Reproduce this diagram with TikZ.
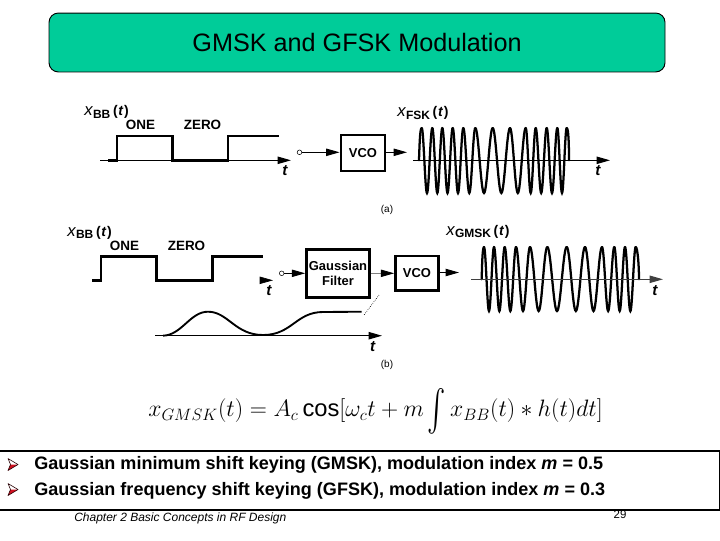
\documentclass[tikz,border=0pt]{standalone}
\usepackage{fontspec}
\setmainfont{Liberation Sans}
\usetikzlibrary{arrows.meta}
\definecolor{titlegreen}{HTML}{00CC99}
\definecolor{bulletred}{HTML}{D01020}
\newcommand{\wavecurve}[4]{%
  \foreach \p [remember=\p as \q (initially #1)] in {#4} {
    \pgfmathsetmacro\m{(\p+\q)/2}
    \pgfmathsetmacro\c{0.364*(\m-\q)}
    \draw[wave] (\q,#2) .. controls +(\c,0) and +(-\c,0) .. (\m,#3)
      .. controls +(\c,0) and +(-\c,0) .. (\p,#2);
  }}
\newcommand{\bulletmark}[1]{%
  \fill[bulletred] (10.5,#1) -- (18,#1) -- (8,#1+6) -- cycle;
  \draw[line width=0.45pt,draw=black!80!bulletred,line join=round] (8,#1-6) -- (18,#1) -- (8,#1+6) -- (10.5,#1) -- cycle;}
\newcommand{\siglabel}[1]{{\fontsize{12.5}{14}\selectfont\itshape x}\kern0.3pt\raisebox{-2pt}{\fontsize{9}{10}\selectfont\bfseries #1}\kern2pt{\fontsize{10.5}{12}\selectfont\bfseries(\kern0.5pt\textit{t}\kern0.5pt)}}
\tikzset{
  tip/.style={-{Triangle[length=10pt,width=5.5pt]}},
  sig/.style={line width=2pt,line join=miter},
  ax/.style={line width=0.8pt,tip},
  con/.style={line width=0.7pt,tip},
  blockbox/.style={draw,line width=2.2pt,inner sep=0pt,font=\bfseries\fontsize{9.7}{11.5}\selectfont,align=center},
  wave/.style={line width=1.7pt,line cap=round},
  lab/.style={inner sep=0pt,font=\bfseries\fontsize{10.1}{12}\selectfont},
  var/.style={inner sep=0pt,font=\bfseries\itshape\fontsize{11.5}{13}\selectfont},
  sigtext/.style={inner sep=0pt,anchor=west},
  port/.style={circle,draw,line width=0.4pt,inner sep=0pt,minimum size=3.5pt},
  bul/.style={anchor=west,inner sep=0pt,font=\bfseries\fontsize{13.53}{15}\selectfont},
}
\begin{document}
\begin{tikzpicture}[x=0.75pt,y=-0.75pt]
\useasboundingbox (0,0) rectangle (720,540);
% title
\node[draw,line width=0.7pt,rounded corners=7pt,fill=titlegreen,minimum width=462pt,minimum height=44.2pt,inner sep=0pt,font=\fontsize{18.9}{22}\selectfont] (title) at (357,42.5) {GMSK and GFSK Modulation};
% panel (a)
\node[sigtext] (xa) at (84,112) {\siglabel{BB}};
\node[lab] (onea) at (140.5,125) {ONE};
\node[lab] (zeroa) at (202.5,125) {ZERO};
\coordinate (axaL) at (100,160.3);
\coordinate (axaR) at (291,160.3);
\draw[ax] (axaL) -- (axaR);
\draw[sig] (108,160.3) -- (117,160.3) -- (117,136) -- (172.7,136) -- (172.7,160.3) -- (228,160.3) -- (228,136) -- (279,136);
\node[var] (ta) at (285,171) {t};
\node[port] (ina) at (299.5,152.3) {};
\node[blockbox,minimum width=33pt,minimum height=27pt] (vcoa) at (363,153) {VCO};
\coordinate (outa) at (407,152.3);
\draw[con] (ina) -- (vcoa.west |- ina);
\draw[con] (vcoa.east |- ina) -- (outa);
\node[sigtext] (xfsk) at (397,113) {\siglabel{FSK}};
\wavecurve{421.7}{128}{193}{432.3,442.3,452.7,463.3,475.3,492.7,510,525.7,535.7,546.7,557.3,566.7}
\draw[wave] (419,160.3) .. controls (419.5,145) and (420,128) .. (421.7,128);
\draw[wave] (566.7,128) .. controls (568.5,128) and (569,145) .. (569,160.3);
\coordinate (axfL) at (413,160.3);
\coordinate (axfR) at (610,160.3);
\draw[ax] (axfL) -- (axfR);
\node[var] (tf) at (598,171) {t};
\node[inner sep=0pt,font=\fontsize{7.5}{9}\selectfont] (capa) at (387,209.5) {(a)};
% panel (b)
\node[sigtext] (xb) at (67,232.5) {\siglabel{BB}};
\node[lab] (oneb) at (124.5,246) {ONE};
\node[lab] (zerob) at (186.5,246) {ZERO};
\draw[sig] (92,280.3) -- (101,280.3) -- (101,256.3) -- (156.7,256.3) -- (156.7,280.3) -- (212.7,280.3) -- (212.7,256.3) -- (262.7,256.3);
\coordinate (stubL) at (261.5,280.3);
\coordinate (stubR) at (273,280.3);
\draw[tip,line width=0.5pt] (stubL) -- (stubR);
\node[var] (tb) at (269,291) {t};
\node[port] (inb) at (281.7,273.3) {};
\node[blockbox,minimum width=47pt,minimum height=36pt] (gf) at (338,273.7) {Gaussian\\Filter};
\node[blockbox,minimum width=32pt,minimum height=26pt] (vcob) at (417,273.3) {VCO};
\draw[con] (inb) -- (gf.west |- inb);
\draw[line width=0.7pt,draw=gray,-{Triangle[length=10pt,width=5.5pt,black]}] (gf.east |- vcob) -- (vcob.west);
\coordinate (outb) at (459,272.5);
\draw[con] (vcob.east |- outb) -- (outb);
\coordinate (dashT) at (379,295);
\coordinate (dashB) at (364,315);
\draw[densely dotted,line width=0.5pt] (dashT) -- (dashB);
\coordinate (axgL) at (155,335.7);
\coordinate (axgR) at (382,335.7);
\draw[ax] (axgL) -- (axgR);
\draw[line width=1.4pt] (163,335.7) .. controls (182,335) and (190,311.7) .. (208,311.7)
  .. controls (228,311.7) and (235,335) .. (263,335)
  .. controls (292,335) and (296,312) .. (323,312) -- (361.7,311.7);
\node[var] (tg) at (372.7,346.7) {t};
\node[inner sep=0pt,font=\fontsize{7.5}{9}\selectfont] (capb) at (387,365) {(b)};
\node[sigtext] (xgmsk) at (446,231.5) {\siglabel{GMSK}};
\wavecurve{484}{247}{311}{494,504.7,516,530,547.3,566.7,585,602,614.3,625,635.7}
\draw[wave] (481.7,279.3) .. controls (482,265) and (482.5,247) .. (484,247);
\draw[wave] (635.7,247) .. controls (637.5,247) and (639,265) .. (639,279.3);
\coordinate (axmL) at (471,279.3);
\coordinate (axmR) at (663,279.3);
\draw[ax,draw=black!75] (axmL) -- (axmR);
\node[var] (tm) at (655,290.5) {t};
% equation
\node[inner sep=0pt,font=\fontsize{17.28}{21}\selectfont] (eq) at (375.5,411) {\scalebox{1.03}{$x_{GMSK}(t)=A_c\,\mathrm{cos}[\omega_c t+m\,\vcenter{\hbox{\scalebox{2}[3]{$\int$}}}\,x_{BB}(t)*h(t)dt]$}};
% bottom box
\draw[line width=1.5pt] (-2,450.5) rectangle (719.5,509.5);
\bulletmark{464.5}
\bulletmark{489.5}
\node[bul] (b1) at (34,465) {Gaussian minimum shift keying (GMSK), modulation index \textit{m} = 0.5};
\node[bul] (b2) at (34,491) {Gaussian frequency shift keying (GFSK), modulation index \textit{m} = 0.3};
\node[anchor=west,inner sep=0pt,font=\itshape\fontsize{9}{10}\selectfont] (foot) at (74,518.5) {Chapter 2 Basic Concepts in RF Design};
\node[inner sep=0pt,font=\fontsize{8.6}{10}\selectfont] (page) at (620,514.5) {29};
\end{tikzpicture}
\end{document}
